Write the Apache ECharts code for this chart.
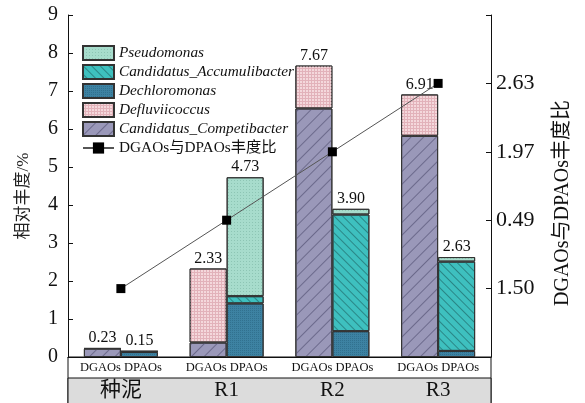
<!DOCTYPE html>
<html lang="zh">
<head>
<meta charset="UTF-8">
<title>DGAOs / DPAOs</title>
<script src="https://cdn.jsdelivr.net/npm/echarts@6/dist/echarts.min.js"></script>
<style>
  body{margin:0;padding:0;background:#fff;}
  #main{width:585px;height:403px;}
</style>
</head>
<body>
<div id="main"></div>
<script type="text/javascript">
// groups and stacked abundances (%)
var groups = ['种泥', 'R1', 'R2', 'R3'];
var competibacter  = [0.22, 0.38, 6.54, 5.82];
var defluviicoccus = [0.01, 1.95, 1.13, 1.09];
var dechloromonas  = [0.13, 1.41, 0.68, 0.16];
var accumulibacter = [0.02, 0.19, 3.07, 2.35];
var pseudomonas    = [0.00, 3.13, 0.15, 0.12];
var dgaoTotal = [0.23, 2.33, 7.67, 6.91];
var dpaoTotal = [0.15, 4.73, 3.90, 2.63];
// DGAOs / DPAOs ratio (right axis labels as printed)
var ratio = ['1.50', '0.49', '1.97', '2.63'];

var serif = 'Liberation Serif, Noto Sans CJK SC';
var G = {left: 68, right: 94, top: 15, bottom: 46};

var myChart = echarts.init(document.getElementById('main'));

function bar(name, stack, data, color, decal, total) {
    var s = {
        name: name,
        type: 'bar',
        stack: stack,
        barWidth: 37,
        barGap: '0%',
        data: data,
        itemStyle: {color: color, borderColor: '#333', borderWidth: 1, decal: decal}
    };
    if (total) {
        s.label = {
            show: true, position: 'top', distance: 2,
            fontFamily: serif, fontSize: 16, color: '#111',
            formatter: function (p) { return total[p.dataIndex].toFixed(2); }
        };
    }
    return s;
}

var option = {
    backgroundColor: '#fff',
    animation: false,
    grid: G,
    legend: {
        orient: 'vertical',
        left: 82, top: 45, padding: 0,
        itemWidth: 31, itemHeight: 14, itemGap: 3,
        textStyle: {fontFamily: serif, fontSize: 15.3, color: '#111', lineHeight: 16},
        data: [
            {name: 'Pseudomonas', icon: 'rect', textStyle: {fontStyle: 'italic'}},
            {name: 'Candidatus_Accumulibacter', icon: 'rect', textStyle: {fontStyle: 'italic'}},
            {name: 'Dechloromonas', icon: 'rect', textStyle: {fontStyle: 'italic'}},
            {name: 'Defluviicoccus', icon: 'rect', textStyle: {fontStyle: 'italic'}},
            {name: 'Candidatus_Competibacter', icon: 'rect', textStyle: {fontStyle: 'italic'}},
            {name: 'DGAOs与DPAOs丰度比'}
        ]
    },
    xAxis: [
        {
            type: 'category', data: groups, position: 'bottom',
            axisLine: {lineStyle: {color: '#111', width: 1}},
            axisTick: {show: false},
            axisLabel: {
                interval: 0, margin: 4, fontFamily: serif, fontSize: 12.5, color: '#111',
                formatter: function () { return 'DGAOs DPAOs'; }
            }
        },
        {
            type: 'category', data: groups, position: 'bottom', offset: 21,
            axisLine: {show: false}, axisTick: {show: false},
            axisLabel: {interval: 0, margin: 2, fontFamily: serif, fontSize: 21, color: '#111'}
        }
    ],
    yAxis: [
        {
            type: 'value', min: 0, max: 9, interval: 1,
            name: '相对丰度/%', nameLocation: 'middle', nameGap: 36, nameRotate: 90,
            nameTextStyle: {fontFamily: serif, fontSize: 17, color: '#222', padding: [0, 20, 0, 0]},
            axisLine: {show: true, lineStyle: {color: '#111'}},
            axisTick: {show: true, inside: true, length: 5, lineStyle: {color: '#111'}},
            axisLabel: {fontFamily: serif, fontSize: 20, color: '#111', margin: 10},
            splitLine: {show: false}
        },
        {
            type: 'category', position: 'right', boundaryGap: false,
            data: [''].concat(ratio, ['']),
            name: 'DGAOs与DPAOs丰度比', nameLocation: 'middle', nameGap: 62, nameRotate: 90,
            nameTextStyle: {fontFamily: serif, fontSize: 20, color: '#111', padding: [0, 34, 0, 0]},
            axisLine: {show: true, lineStyle: {color: '#111'}},
            axisTick: {show: true, inside: true, length: 5, interval: 0, lineStyle: {color: '#111'}},
            axisLabel: {fontFamily: serif, fontSize: 22, color: '#111', margin: 5, interval: 0},
            splitLine: {show: false}
        }
    ],
    graphic: {
        elements: [
            {type: 'rect', z: -1, shape: {x: G.left, y: 357, width: 423, height: 60},
             style: {fill: '#fff', stroke: '#111', lineWidth: 1}},
            {type: 'rect', z: -1, shape: {x: G.left, y: 378, width: 423, height: 40},
             style: {fill: '#dcdcdc', stroke: '#111', lineWidth: 1}}
        ]
    },
    series: [
        bar('Candidatus_Competibacter', 'dg', competibacter, '#9a98b9',
            {symbol: 'rect', dashArrayX: [1, 0], dashArrayY: [1, 8], rotation: -Math.PI / 4, color: '#6c6a8c'}),
        bar('Defluviicoccus', 'dg', defluviicoccus, '#e2b2ba',
            {symbol: 'rect', dashArrayX: [2, 1], dashArrayY: [2, 1], rotation: 0, color: '#f4d8dc'}, dgaoTotal),
        bar('Dechloromonas', 'dp', dechloromonas, '#3d82a2',
            {symbol: 'circle', symbolSize: 0.8, dashArrayX: [1, 1], dashArrayY: [1, 1], rotation: 0, color: '#245c78'}),
        bar('Candidatus_Accumulibacter', 'dp', accumulibacter, '#3ec0bf',
            {symbol: 'rect', dashArrayX: [1, 0], dashArrayY: [1, 5], rotation: Math.PI / 4, color: '#2a8686'}),
        bar('Pseudomonas', 'dp', pseudomonas, '#a7dccc',
            {symbol: 'circle', symbolSize: 0.8, dashArrayX: [1, 2], dashArrayY: [1, 2], rotation: 0, color: '#6fa996'}, dpaoTotal),
        {
            name: 'DGAOs与DPAOs丰度比',
            type: 'line',
            xAxisIndex: 0, yAxisIndex: 1,
            symbol: 'rect', symbolSize: 9,
            itemStyle: {color: '#000'},
            lineStyle: {color: '#555', width: 1},
            data: ratio.map(function (r, i) { return [groups[i], r]; }),
            z: 5
        }
    ]
};
myChart.setOption(option);
</script>
</body>
</html>
